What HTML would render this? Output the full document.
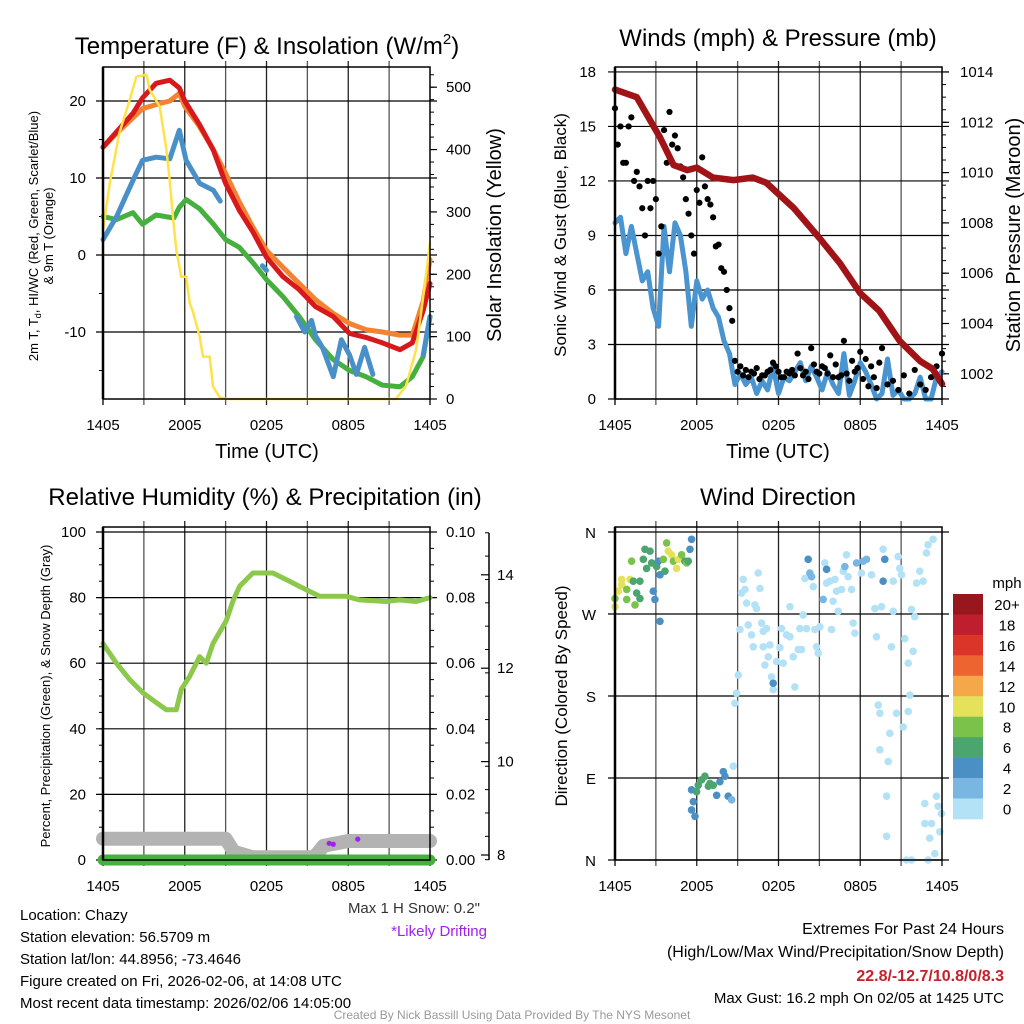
<!DOCTYPE html>
<html><head><meta charset="utf-8"><style>
body{margin:0;background:#fff}
svg{display:block;font-family:"Liberation Sans",sans-serif}
</style></head><body>
<svg id="chart" width="1024" height="1024" viewBox="0 0 1024 1024">
<rect x="0" y="0" width="1024" height="1024" fill="#fff"/>
<g id="g"></g>
<text x="267" y="54" font-size="24" text-anchor="middle">Temperature (F) &amp; Insolation (W/m<tspan font-size="15" dy="-10">2</tspan><tspan dy="10">)</tspan></text>
<text x="778" y="46" font-size="24" text-anchor="middle">Winds (mph) &amp; Pressure (mb)</text>
<text x="265" y="505" font-size="24" text-anchor="middle">Relative Humidity (%) &amp; Precipitation (in)</text>
<text x="778" y="505" font-size="24" text-anchor="middle">Wind Direction</text>
<text x="267" y="458" font-size="20" text-anchor="middle">Time (UTC)</text>
<text x="778" y="458" font-size="20" text-anchor="middle">Time (UTC)</text>
<text transform="translate(501,235) rotate(-90)" font-size="20" text-anchor="middle">Solar Insolation (Yellow)</text>
<text transform="translate(38,236) rotate(-90)" font-size="13" text-anchor="middle">2m T, T<tspan font-size="9" dy="3">d</tspan><tspan dy="-3">, HI/WC (Red, Green, Scarlet/Blue)</tspan></text>
<text transform="translate(53,236) rotate(-90)" font-size="13" text-anchor="middle">&amp; 9m T (Orange)</text>
<text transform="translate(566,235) rotate(-90)" font-size="17" text-anchor="middle">Sonic Wind &amp; Gust (Blue, Black)</text>
<text transform="translate(1020,235) rotate(-90)" font-size="20" text-anchor="middle">Station Pressure (Maroon)</text>
<text transform="translate(50,696) rotate(-90)" font-size="13" text-anchor="middle">Percent, Precipitation (Green), &amp; Snow Depth (Gray)</text>
<text transform="translate(567,696) rotate(-90)" font-size="17" text-anchor="middle">Direction (Colored By Speed)</text>
<text x="1007" y="588" font-size="15" text-anchor="middle">mph</text>
<g font-size="15">
<text x="20" y="920">Location: Chazy</text>
<text x="20" y="942">Station elevation: 56.5709 m</text>
<text x="20" y="964">Station lat/lon: 44.8956; -73.4646</text>
<text x="20" y="986">Figure created on Fri, 2026-02-06, at 14:08 UTC</text>
<text x="20" y="1008">Most recent data timestamp: 2026/02/06 14:05:00</text>
</g>
<text x="480" y="913" font-size="15" fill="#333" text-anchor="end">Max 1 H Snow: 0.2"</text>
<text x="487" y="936" font-size="15" fill="#a020f0" text-anchor="end">*Likely Drifting</text>
<g font-size="16" text-anchor="end">
<text x="1004" y="934">Extremes For Past 24 Hours</text>
<text x="1004" y="957">(High/Low/Max Wind/Precipitation/Snow Depth)</text>
<text x="1004" y="981" fill="#c8202a" font-weight="bold">22.8/-12.7/10.8/0/8.3</text>
<text x="1004" y="1003" font-size="15">Max Gust: 16.2 mph On 02/05 at 1425 UTC</text>
</g>
<text x="512" y="1019" font-size="12" fill="#999" text-anchor="middle">Created By Nick Bassill Using Data Provided By The NYS Mesonet</text>
</svg>
<script>
// ---- data (hours since 1405 UTC) ----
const timeLabels = ['1405','2005','0205','0805','1405'];
const tempTicks = [-10,0,10,20];
const solarTicks = [0,100,200,300,400,500];
const windTicks = [0,3,6,9,12,15,18];
const presTicks = [1002,1004,1006,1008,1010,1012,1014];
const rhTicks = [0,20,40,60,80,100];
const precipTicks = ['0.00','0.02','0.04','0.06','0.08','0.10'];
const snowTicks = [8,10,12,14];
const dirLabels = ['N','E','S','W','N'];

const redH = [0,2.2,2.9,3.9,4.9,5.6,6,7.1,8.1,9,10,11,12,13.2,14.4,15.6,16.9,18.1,19.3,20.5,21.8,22.7,23.5,24];
const redT = [14,18.4,20.4,22.3,22.7,21.7,20,16.9,13.6,9.3,5.8,3,-0.3,-2.8,-4.5,-6.7,-8,-10.2,-10.7,-11.4,-12.3,-11.4,-7.2,-3.7];
const orangeH = [0,1,2,2.9,4,4.9,5.6,6,7,8,9,10,11,12,13.2,14.4,15.6,16.9,18.1,19.3,20.5,21.8,22.7,23.5,24];
const orangeT = [14,15.8,17.5,19,19.6,20,21,19.3,16.9,14,10.6,6.9,3.6,0.6,-1.6,-3.7,-5.8,-7.6,-8.9,-9.7,-10,-10.4,-10.4,-6,-0.6];
const greenH = [0,1,2.2,2.9,3.9,5.2,5.6,6.1,7.1,8.1,9,10,11,12,13.2,14.4,15.6,16.9,18.1,19.3,20.5,21.8,22.7,23.5,24];
const greenT = [5,4.6,5.5,4,5.2,4.8,6.2,7.2,6,4,2,1,-1,-3.2,-5.4,-8,-11,-13.6,-15,-15.8,-16.9,-17.1,-15.8,-13.2,-8];
const blueH = [0,1,2.2,2.9,3.9,4.9,5.6,6.1,7.1,8.1,8.6,null,11.7,12,null,14.2,14.8,15.3,15.6,16.1,16.9,17.5,18.1,18.6,19.2,19.8,null,23.5,24];
const blueT = [2,5,9.7,12.3,12.7,12.5,16.2,12.3,9.3,8.4,7,null,-1.4,-2,null,-8,-10,-8.5,-10.5,-12,-15.8,-11,-13,-15.5,-12,-15.5,null,-13,-8];
const solarH = [0,0.5,1.2,1.96,2.45,3.2,3.42,4.16,4.65,4.89,5.13,5.38,5.75,6.11,6.36,6.6,7.09,7.34,7.83,8.07,8.56,9.05,21.5,22.24,22.98,23.47,24];
const solarW = [271,346,426,480,517,520,496,469,400,352,293,239,196,196,154,140,100,68,68,20,3,0,0,21,79,159,250];

const presH = [0,1.6,3.3,4.3,5.3,6,7.2,8.7,10.1,11.1,13.1,15,16.5,18,19.4,20.9,22.4,23.3,24];
const presMb = [1013.3,1013,1011.4,1010.3,1010.1,1010.2,1009.8,1009.7,1009.8,1009.6,1008.6,1007.4,1006.4,1005.2,1004.5,1003.3,1002.5,1002.2,1001.6];
const windStep = 0.4;
const windMph = [9.7,10,8,9.5,8,6.5,7,5,4,9.5,7,9.7,9,7,4,6.5,5.5,6,5,4.5,3.2,2.5,0.8,1.4,0.8,1.2,0.3,1,0.5,1.8,0.3,1.2,1,1.5,2,1,1.8,1.2,0.5,1.5,0.8,0.3,2.5,0.2,1,2,1.5,0.8,0,0.3,2.2,0.2,0.5,0,0,0.3,1.2,0,0,1.2,1.5];
const gustMph = [16,15,13,15.5,12.5,10.5,12,12,8,14.8,15.8,14.5,12.8,11,9,11.5,13.3,11,10,8.5,7,5,2.1,1.8,1.6,1.5,1.7,1.3,1.5,2,1.5,1.2,1.4,1.3,1.7,1.5,2.8,1.5,1.8,1.4,1.2,1.2,3.2,1,1.5,2.6,2.2,1.8,0.6,2.8,0.8,1,0.5,1.3,0.3,1.6,0.8,0.5,1.2,1.8,2.5];
const gust2Mph = [14,13,15,12,11.7,9,10.5,11,9.5,13,14,13.8,12.2,10.2,8,10.8,11.7,10.7,8.4,7.2,6,4.3,1.5,1.3,1.2,1.4,1.1,1.3,1.6,1.8,1.2,1.5,1.6,2.5,1.3,1.1,1.9,1.4,1.7,2.4,1.9,1.3,1.4,2.1,1.7,1.1,0.7,1.2,2.0];

const rhH = [0,0.98,1.96,2.93,3.91,4.65,5.38,5.75,6.36,7.09,7.58,8.07,9.05,9.54,10.03,11,11.98,12.47,13.45,14.42,15.89,16.87,17.85,18.83,20.78,21.76,22.98,24];
const rhPct = [66,60,55,51,48,45.8,45.8,52,56,62,60,66,73,79,83.5,87.5,87.5,87.5,85.5,83.4,80.4,80.4,80.4,79.3,78.8,79.3,78.8,80];
const snowH = [0,9,9.6,11,15.5,16.2,18,24];
const snowIn = [8.35,8.35,8.07,7.95,7.95,8.2,8.3,8.3];
const precipH = [0,24];
const precipIn = [0,0];
const driftH = [16.6,16.9,18.7];
const driftIn = [8.25,8.23,8.34];

const dirH = [0,0,0.24,0.49,0.49,0.86,0.86,1.1,1.22,1.34,1.47,1.59,1.83,1.83,2.08,2.2,2.32,2.57,2.69,2.81,2.93,3.06,3.18,3.3,3.3,3.55,3.67,3.79,3.91,4.16,4.28,4.52,4.65,4.89,5.13,5.26,5.38,5.5,5.62,
5.62,5.62,5.75,5.87,5.99,6.11,6.36,6.6,6.85,6.97,7.21,7.46,7.7,7.95,8.07,8.31,8.56,8.68,
8.8,8.92,9.05,9.17,9.29,9.41,9.54,9.66,9.78,10.02,10.15,10.27,10.39,10.51,10.64,10.76,10.88,10.88,11,11.12,11.25,11.37,11.49,11.61,11.61,11.86,12.1,12.22,12.35,12.59,12.84,12.84,13.08,13.2,13.45,13.57,13.69,13.81,13.94,14.06,14.18,14.3,14.43,14.55,14.67,14.79,14.91,15.04,15.28,15.4,15.53,15.53,15.77,15.89,16.01,16.14,16.26,16.38,16.63,16.75,16.87,16.99,17.11,17.36,17.48,17.6,17.73,18.09,18.22,18.46,18.83,19.07,19.19,19.32,19.44,19.44,19.56,19.68,19.68,19.8,19.93,19.93,20.05,20.17,20.29,20.42,20.42,20.66,20.78,20.9,21.03,21.15,21.27,21.39,21.52,21.52,21.64,21.76,21.76,21.88,22,22.13,22.37,22.62,22.74,22.74,22.86,22.98,22.98,23.1,23.23,23.35,23.47,23.59,23.72,23.84,23.96];
const dirDeg = [278,287,295,302,308,297,286,308,328,306,280,293,306,287,330,341,320,339,326,295,286,322,328,262,313,330,317,348,339,335,328,320,330,335,328,326,328,341,352,
77,55,64,48,75,82,88,92,81,84,82,71,86,97,92,70,66,103,
172,183,203,253,293,308,297,282,258,247,234,280,276,315,298,260,234,251,214,254,223,236,201,187,194,218,233,254,216,247,278,245,223,190,231,254,231,269,309,254,330,315,311,300,253,234,227,256,286,326,319,304,306,253,284,308,295,273,297,317,322,335,311,297,260,249,326,315,328,330,313,276,245,170,161,121,278,341,306,330,70,26,108,139,234,273,306,161,333,320,313,146,243,0,216,163,181,275,0,229,267,304,317,306,62,40,337,346,0,24,40,352,7,70,59,31,51];
const dirSpd = [10,8,10,10,10,8,8,10,8,6,8,6,6,6,6,6,6,6,6,4,4,6,4,4,4,8,6,8,10,10,8,10,10,8,6,8,6,4,4,
4,4,4,4,6,6,6,6,6,6,6,4,4,4,4,4,2,0.5,
0.5,0.5,0.5,0.5,0.5,0.5,0.5,0.5,0.5,0.5,0.5,0.5,0.5,0.5,0.5,0.5,0.5,0.5,0.5,0.5,0.5,0.5,0.5,0.5,4,0.5,0.5,0.5,0.5,0.5,0.5,0.5,0.5,0.5,0.5,0.5,0.5,0.5,0.5,0.5,4,2,2,0.5,0.5,0.5,0.5,0.5,2,0.5,4,0.5,0.5,0.5,0.5,0.5,0.5,0.5,0.5,0.5,2,0.5,0.5,0.5,0.5,0.5,2,0.5,2,2,0.5,0.5,0.5,0.5,0.5,0.5,0.5,0.5,4,4,0.5,0.5,0.5,0.5,0.5,0.5,0.5,0.5,0.5,0.5,0.5,0.5,0.5,0.5,0.5,0.5,0.5,0.5,0.5,0.5,0.5,0.5,0.5,0.5,0.5,0.5,0.5,0.5,0.5,0.5,0.5,0.5,0.5,0.5,0.5,0.5,0.5,0.5];
const cbLabels = ['20+','18','16','14','12','10','8','6','4','2','0'];
const cbColors = ['#98171c','#be1e2d','#db3529','#ee6430','#f5a84a','#e6e15a','#7bc24b','#4ba56e','#4a90c4','#7ab6e2','#b3e2f7'];

// ---- helpers ----
const NS='http://www.w3.org/2000/svg';
const G=document.getElementById('g');
function mk(tag,attrs,name){
  const el=document.createElementNS(NS,tag);
  for(const k in attrs) el.setAttribute(k,attrs[k]);
  
  
  G.appendChild(el);
  return el;
}
function txt(x,y,s,anchor,size,name,fill){
  const el=mk('text',{x:x,y:y,'font-size':size||15,'text-anchor':anchor||'middle',fill:fill||'#000'},name);
  el.textContent=s;
  return el;
}
function line(hs,vs,X,Y,color,w,name){
  let d='',pen=false;
  for(let i=0;i<hs.length;i++){
    if(hs[i]===null||vs[i]===null){pen=false;continue;}
    d+=(pen?'L':'M')+X(hs[i]).toFixed(1)+' '+Y(vs[i]).toFixed(1);pen=true;
  }
  mk('path',{d:d,fill:'none',stroke:color,'stroke-width':w,'stroke-linejoin':'round','stroke-linecap':'round'},name);
}
function frame(x0,x1,y0,y1,pfx){
  for(let k=1;k<8;k++){
    const x=x0+k*(x1-x0)/8;
    mk('line',{x1:x,x2:x,y1:y0-6,y2:y1+6,stroke:k%2?'#555':'#222','stroke-width':1.3},pfx+'-vgrid');
  }
  mk('line',{x1:x0,x2:x0,y1:y1,y2:y1+6,stroke:'#000','stroke-width':1.3},pfx+'-xtick');
  mk('line',{x1:x1,x2:x1,y1:y1,y2:y1+6,stroke:'#000','stroke-width':1.3},pfx+'-xtick');
  for(let k=0;k<5;k++){
    txt(x0+k*(x1-x0)/4,y1+31,timeLabels[k],'middle',15,pfx+'-x-tick-label');
  }
}
function border(x0,x1,y0,y1,pfx){
  mk('rect',{x:x0,y:y0,width:x1-x0,height:y1-y0,fill:'none',stroke:'#000','stroke-width':1.5},pfx+'-border');
  mk('line',{x1:x0,x2:x0,y1:y0,y2:y1,stroke:'#000','stroke-width':2.5},pfx+'-left-axis');
}
function hgrid(y,x0,x1,name){mk('line',{x1:x0-7,x2:x1+7,y1:y,y2:y,stroke:'#000','stroke-width':1.2},name);}
function minor(x,y,side,name){mk('line',{x1:x,x2:x+side*4,y1:y,y2:y,stroke:'#000','stroke-width':1},name);}

// ---- panel 1 ----
const X1=h=>103+h*327/24, X2=h=>615+h*327/24;
const yT=t=>255-t*7.7, yS=s=>399-s*0.6236;
frame(103,430,67,399,'temp');
tempTicks.forEach(t=>{hgrid(yT(t),103,430,'temp-hgrid');txt(86,yT(t)+5,String(t),'end',15,'temp-y-tick-label');});
[-15,-5,5,15].forEach(t=>minor(103,yT(t),-1,'temp-minor-tick'));
for(let s=0;s<=520;s+=20){minor(430,yS(s),1,'solar-minor-tick');}
solarTicks.forEach(s=>{mk('line',{x1:430,x2:437,y1:yS(s),y2:yS(s),stroke:'#000','stroke-width':1.2},'solar-tick');txt(446,yS(s)+5,String(s),'start',15,'solar-y-tick-label');});
line(greenH,greenT,X1,yT,'#45b03d',5,'dewpoint-line');
line(blueH,blueT,X1,yT,'#4a90c8',5,'windchill-line');
line(orangeH,orangeT,X1,yT,'#f58231',5,'temp-9m-line');
line(redH,redT,X1,yT,'#d7191c',5,'temp-2m-line');
line(solarH,solarW,X1,yS,'#ffe24a',2.5,'solar-line');
border(103,430,67,399,'temp');

// ---- panel 2 ----
const yW=v=>399-v*18.17, yP=p=>72+(1014-p)*25.15;
frame(615,942,67,399,'wind');
windTicks.forEach(v=>{hgrid(yW(v),615,942,'wind-hgrid');txt(596,yW(v)+5,String(v),'end',15,'wind-y-tick-label');});
for(let p=1001;p<=1014;p+=0.5){minor(942,yP(p),1,'pressure-minor-tick');}
presTicks.forEach(p=>{mk('line',{x1:942,x2:949,y1:yP(p),y2:yP(p),stroke:'#000','stroke-width':1.2},'pressure-tick');txt(960,yP(p)+5,String(p),'start',15,'pressure-y-tick-label');});
line(windMph.map((v,i)=>i*windStep),windMph,X2,yW,'#4a94d0',5,'wind-speed-line');
gustMph.forEach((v,i)=>{mk('circle',{cx:X2(i*windStep),cy:yW(v),r:3.1,fill:'#000'},'gust-point');});
gust2Mph.forEach((v,i)=>{mk('circle',{cx:X2(i*windStep+0.2),cy:yW(v),r:3.1,fill:'#000'},'gust-point');});
line(presH,presMb,X2,yP,'#a01418',6.5,'pressure-line');
border(615,942,67,399,'wind');

// ---- panel 3 ----
const yR=r=>860-r*3.28, ySn=s=>855-(s-8)*46.7;
frame(103,430,527,860,'rh');
rhTicks.forEach((r,i)=>{hgrid(yR(r),103,430,'rh-hgrid');txt(86,yR(r)+5,String(r),'end',15,'rh-y-tick-label');txt(446,yR(r)+5,precipTicks[i],'start',15,'precip-y-tick-label');});
for(let r=0;r<=100;r+=5){minor(103,yR(r),-1,'rh-minor-tick');minor(430,yR(r),1,'precip-minor-tick');}
mk('line',{x1:489,x2:489,y1:533,y2:860,stroke:'#000','stroke-width':1.5},'snow-axis');
for(let s=7.9;s<=14.9;s+=0.5){minor(489,ySn(s),-1,'snow-minor-tick');}
snowTicks.forEach(s=>{mk('line',{x1:481,x2:489,y1:ySn(s),y2:ySn(s),stroke:'#000','stroke-width':1.2},'snow-tick');txt(497,ySn(s)+5,String(s),'start',15,'snow-y-tick-label');});
line(snowH,snowIn,X1,ySn,'#b3b3b3',14,'snow-depth-line');
line(precipH,precipIn,X1,h=>860-h*3280,'#45b03d',11,'precip-line');
line(rhH,rhPct,X1,yR,'#8cc84b',5,'rh-line');
driftH.forEach((h,i)=>{mk('circle',{cx:X1(h),cy:ySn(driftIn[i]),r:2.6,fill:'#a020f0'},'drift-point');});
border(103,430,527,860,'rh');

// ---- panel 4 ----
const yD=d=>860-d*328/360;
frame(615,942,527,860,'dir');
dirLabels.forEach((s,i)=>{hgrid(yD(i*90),615,942,'dir-hgrid');txt(596,yD(i*90)+6,s,'end',15,'dir-y-tick-label');});
function spdColor(v){const i=Math.min(10,Math.floor(v/2));return cbColors[10-i];}
dirH.forEach((h,i)=>{mk('circle',{cx:X2(h),cy:yD(dirDeg[i]),r:3.8,fill:spdColor(dirSpd[i])},'direction-point');});
border(615,942,527,860,'dir');
cbColors.forEach((c,i)=>{mk('rect',{x:953,y:594+i*20.45,width:30,height:20.8,fill:c},'colorbar-box');
  txt(1007,594+i*20.45+16,cbLabels[i],'middle',15,'colorbar-label');});
</script>
</body></html>
